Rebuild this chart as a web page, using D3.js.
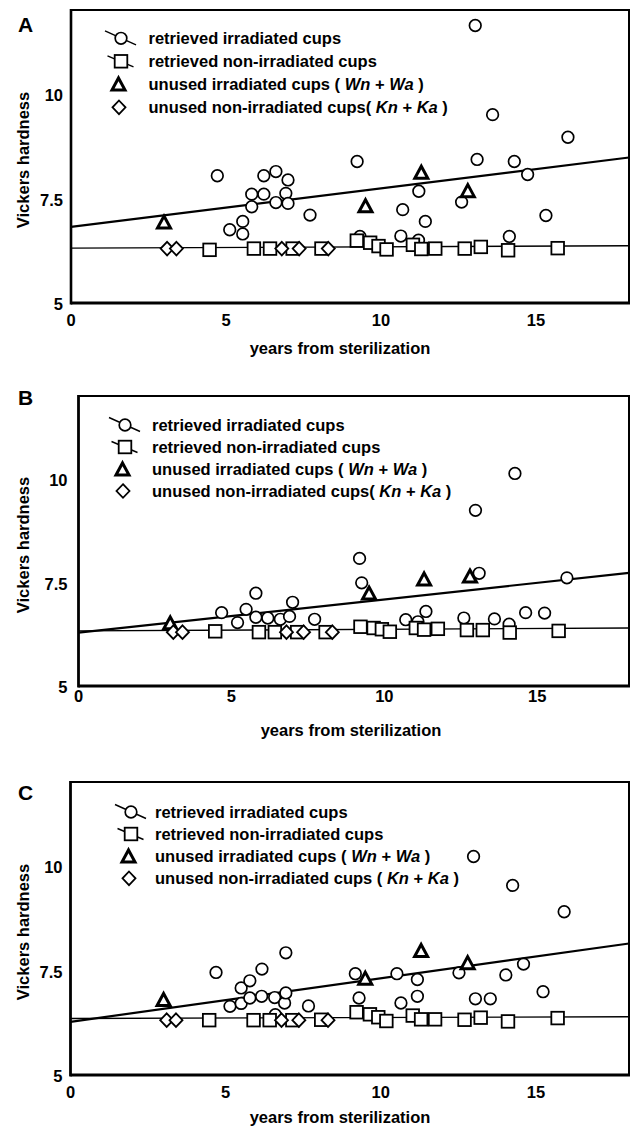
<!DOCTYPE html>
<html><head><meta charset="utf-8">
<script src="https://cdn.jsdelivr.net/npm/d3@7"></script>
<style>
body{margin:0;background:#fff}
svg{display:block}
text{font-family:"Liberation Sans",Arial,sans-serif;font-weight:bold;fill:#000;white-space:pre}
</style>
</head><body>
<svg id="chart" width="632" height="1127"></svg>
<script>
// ---------- data ----------
const panelLetters = ["A", "B", "C"];
const xDomain = [0, 18];
const yDomain = [5, 12];
const xTicks = [0, 5, 10, 15];
const yTicks = [5, 7.5, 10];
const yTickLabels = ["5", "7.5", "10"];
const xTitle = "years from sterilization";
const yTitle = "Vickers hardness";
const legend1 = "retrieved irradiated cups";
const legend2 = "retrieved non-irradiated cups";
const legend3 = [["unused irradiated cups ( ", false], ["Wn", true], [" + ", false], ["Wa", true], [" )", false]];
const legend4AB = [["unused non-irradiated cups( ", false], ["Kn", true], [" + ", false], ["Ka", true], [" )", false]];
const legend4C = [["unused non-irradiated cups ( ", false], ["Kn", true], [" + ", false], ["Ka", true], [" )", false]];

// years of unused cups and retrieved non-irradiated cups (same in all panels)
const diamondYears = [3.1, 3.4, 6.8, 7.36, 8.3];
const triangleYears = [3.0, 9.5, 11.3, 12.8];
const squareYears = [4.47, 5.9, 6.42, 7.15, 8.08, 9.22, 9.65, 9.92, 10.18, 11.03, 11.3, 11.75, 12.7, 13.22, 14.1, 15.7];

// Panel A
const aCircles = [[4.72,8.04],[5.12,6.75],[5.54,6.95],[5.54,6.65],[5.83,7.6],[5.83,7.3],[6.22,7.6],[6.22,8.04],[6.61,8.14],[6.61,7.4],[7.0,7.94],[6.93,7.62],[7.0,7.38],[7.71,7.1],[9.23,8.38],[9.32,6.59],[10.64,6.6],[10.7,7.23],[11.22,7.67],[11.43,6.95],[11.21,6.5],[12.6,7.41],[13.04,11.63],[13.1,8.43],[13.6,9.5],[14.14,6.59],[14.3,8.38],[14.73,8.07],[15.32,7.09],[16.03,8.96]];
const aSquares = [6.27,6.3,6.3,6.3,6.3,6.49,6.44,6.36,6.28,6.39,6.29,6.3,6.3,6.34,6.26,6.31];
const aTriangles = [6.91,7.3,8.1,7.66];
const aDiamonds = [6.3,6.3,6.3,6.3,6.3];
const aFitIrr = [6.82, 0.092];
const aFitNon = [6.31, 0.0033];

// Panel B
const bCircles = [[4.68,6.77],[5.2,6.53],[5.48,6.85],[5.8,7.24],[5.8,6.66],[6.19,6.64],[6.6,6.61],[6.9,6.68],[7.0,7.02],[7.72,6.61],[9.19,8.08],[9.26,7.49],[10.7,6.6],[11.1,6.55],[11.36,6.8],[12.6,6.64],[12.98,9.24],[13.1,7.72],[13.6,6.62],[14.08,6.49],[14.27,10.13],[14.62,6.77],[15.24,6.76],[15.97,7.61]];
const bSquares = [6.32,6.3,6.3,6.3,6.3,6.43,6.4,6.37,6.31,6.4,6.36,6.38,6.35,6.35,6.29,6.33];
const bTriangles = [6.5,7.22,7.56,7.63];
const bDiamonds = [6.3,6.3,6.3,6.3,6.3];
const bFitIrr = [6.29, 0.08];
const bFitNon = [6.33, 0.0039];

// Panel C
const cCircles = [[4.69,7.45],[5.14,6.64],[5.5,7.08],[5.5,6.71],[5.78,7.25],[5.78,6.84],[6.17,7.53],[6.16,6.88],[6.58,6.85],[6.6,6.44],[6.9,6.72],[6.94,6.96],[6.94,7.92],[7.67,6.65],[9.18,7.42],[9.3,6.84],[10.52,7.42],[10.65,6.72],[11.18,7.28],[11.18,6.88],[12.52,7.44],[12.99,10.22],[13.05,6.82],[13.53,6.82],[14.03,7.39],[14.25,9.53],[14.6,7.65],[15.23,6.99],[15.91,8.9]];
const cSquares = [6.31,6.31,6.31,6.31,6.32,6.5,6.45,6.38,6.29,6.42,6.33,6.33,6.32,6.37,6.28,6.36];
const cTriangles = [6.78,7.29,7.95,7.66];
const cDiamonds = [6.31,6.31,6.31,6.31,6.31];
const cFitIrr = [6.27, 0.104];
const cFitNon = [6.35, 0.0023];

// ---------- layout ----------
const panels = [
  {letter: panelLetters[0], box:{l:71, r:629, t:10, b:303}, xLabDy:17, yLabGap:8, xTitleX:340, xTitleY:348, yTitleY:160, letterY:32,
   legend:{sx:121, tx:148.5, ys:[38.3,61.3,84.5,107.3]}, circles:aCircles, squares:aSquares, tri:aTriangles, dia:aDiamonds, fitIrr:aFitIrr, fitNon:aFitNon, l4:legend4AB},
  {letter: panelLetters[1], box:{l:78.5, r:629, t:396, b:686}, xLabDy:10, yLabGap:11, xTitleX:351, xTitleY:730, yTitleY:545, letterY:405,
   legend:{sx:125, tx:152, ys:[425,447,469.5,491]}, circles:bCircles, squares:bSquares, tri:bTriangles, dia:bDiamonds, fitIrr:bFitIrr, fitNon:bFitNon, l4:legend4AB},
  {letter: panelLetters[2], box:{l:70.5, r:629, t:782, b:1075}, xLabDy:17, yLabGap:8, xTitleX:340, xTitleY:1117, yTitleY:932, letterY:800,
   legend:{sx:131, tx:155, ys:[812,834,856.5,878.3]}, circles:cCircles, squares:cSquares, tri:cTriangles, dia:cDiamonds, fitIrr:cFitIrr, fitNon:cFitNon, l4:legend4C}
];

const svg = d3.select("#chart");
const FS = 16.5;

function triPath(cx, cy){ return `M${cx},${cy-7}L${cx+6.5},${cy+5}L${cx-6.5},${cy+5}Z`; }
function diaPath(cx, cy){ return `M${cx},${cy-6.8}L${cx+6.5},${cy}L${cx},${cy+6.8}L${cx-6.5},${cy}Z`; }
function addText(g, x, y, anchor, size, rot){
  return g.append("text")
    .attr("transform", `translate(${x},${y})${rot ? " rotate(-90)" : ""}`)
    .attr("text-anchor", anchor).attr("dy", "0.35em").attr("font-size", size);
}

panels.forEach(p => {
  const g = svg.append("g");
  const x = d3.scaleLinear().domain(xDomain).range([p.box.l, p.box.r]);
  const y = d3.scaleLinear().domain(yDomain).range([p.box.b, p.box.t]);

  // fit lines
  [[p.fitIrr, 2.2], [p.fitNon, 1.4]].forEach(([f, w]) => {
    g.append("line")
      .attr("x1", x(xDomain[0])).attr("y1", y(f[0] + f[1]*xDomain[0]))
      .attr("x2", x(xDomain[1])).attr("y2", y(f[0] + f[1]*xDomain[1]))
      .attr("stroke", "#000").attr("stroke-width", w);
  });

  // circles
  g.selectAll(".c").data(p.circles).join("circle")
    .attr("cx", d => x(d[0])).attr("cy", d => y(d[1])).attr("r", 5.8)
    .attr("fill", "#fff").attr("stroke", "#000").attr("stroke-width", 1.7);
  // squares
  g.selectAll(".s").data(p.squares).join("rect")
    .attr("x", (d,i) => x(squareYears[i]) - 6.3).attr("y", d => y(d) - 6.3)
    .attr("width", 12.6).attr("height", 12.6)
    .attr("fill", "#fff").attr("stroke", "#000").attr("stroke-width", 1.8);
  // triangles
  g.selectAll(".t").data(p.tri).join("path")
    .attr("d", (d,i) => triPath(x(triangleYears[i]), y(d)))
    .attr("fill", "#fff").attr("stroke", "#000").attr("stroke-width", 3).attr("stroke-linejoin", "miter");
  // diamonds
  g.selectAll(".d").data(p.dia).join("path")
    .attr("d", (d,i) => diaPath(x(diamondYears[i]), y(d)))
    .attr("fill", "#fff").attr("stroke", "#000").attr("stroke-width", 1.8);

  // box
  g.append("rect").attr("x", p.box.l).attr("y", p.box.t)
    .attr("width", p.box.r - p.box.l).attr("height", p.box.b - p.box.t)
    .attr("fill", "none").attr("stroke", "#000").attr("stroke-width", 2);
  g.append("line").attr("x1", p.box.l).attr("x2", p.box.r + 1).attr("y1", p.box.b).attr("y2", p.box.b)
    .attr("stroke", "#000").attr("stroke-width", 3);
  g.append("line").attr("x1", p.box.l).attr("x2", p.box.l).attr("y1", p.box.t - 1).attr("y2", p.box.b + 1.5)
    .attr("stroke", "#000").attr("stroke-width", 2.6);

  // tick labels
  xTicks.forEach(v => addText(g, x(v), p.box.b + p.xLabDy, "middle", FS).text(v));
  yTicks.forEach((v, i) => addText(g, p.box.l - p.yLabGap, y(v) + 1.5, "end", FS).text(yTickLabels[i]));

  // titles
  addText(g, p.xTitleX, p.xTitleY, "middle", FS).text(xTitle);
  addText(g, 23, p.yTitleY, "middle", FS, true).text(yTitle);
  g.append("text").attr("x", 18).attr("y", p.letterY).attr("font-size", 21).text(p.letter);

  // legend
  const L = p.legend;
  const items = [[[legend1,false]], [[legend2,false]], legend3, p.l4];
  items.forEach((segs, i) => {
    const t = addText(g, L.tx, L.ys[i], "start", FS);
    segs.forEach(s => t.append("tspan").attr("font-style", s[1] ? "italic" : "normal").text(s[0]));
  });
  const sx = L.sx;
  // circle with line
  g.append("line").attr("x1", sx - 16).attr("y1", L.ys[0] - 7.5).attr("x2", sx + 15).attr("y2", L.ys[0] + 6.5)
    .attr("stroke", "#000").attr("stroke-width", 1.4);
  g.append("circle").attr("cx", sx).attr("cy", L.ys[0]).attr("r", 5.8)
    .attr("fill", "#fff").attr("stroke", "#000").attr("stroke-width", 1.7);
  // square with line
  g.append("line").attr("x1", sx - 13.5).attr("y1", L.ys[1] - 5.5).attr("x2", sx + 12.5).attr("y2", L.ys[1] + 5.5)
    .attr("stroke", "#000").attr("stroke-width", 1.4);
  g.append("rect").attr("x", sx - 6.3).attr("y", L.ys[1] - 6.3).attr("width", 12.6).attr("height", 12.6)
    .attr("fill", "#fff").attr("stroke", "#000").attr("stroke-width", 1.8);
  g.append("path").attr("d", triPath(sx - 2.5, L.ys[2] + 0.5))
    .attr("fill", "#fff").attr("stroke", "#000").attr("stroke-width", 3);
  g.append("path").attr("d", diaPath(sx - 2, L.ys[3]))
    .attr("fill", "#fff").attr("stroke", "#000").attr("stroke-width", 1.8);
});
</script>
</body></html>
